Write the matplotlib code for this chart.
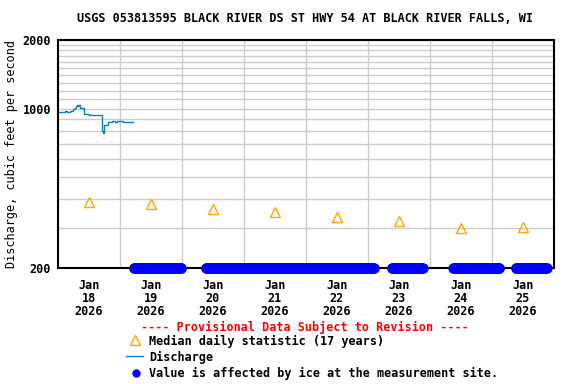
import numpy as np
import matplotlib
matplotlib.use("Agg")
from matplotlib import pyplot as plt
from matplotlib.ticker import FixedLocator, NullFormatter

plt.rcParams['font.family'] = ['DejaVu Sans Mono']
plt.rcParams['font.weight'] = 'bold'

title = "USGS 053813595 BLACK RIVER DS ST HWY 54 AT BLACK RIVER FALLS, WI"

# discharge, hours after Jan 18 00:00
q_hours = [0, 1, 2, 2.7, 3.5, 4.5, 5.9, 6.5, 7.0, 7.4, 7.7, 8.1, 8.5, 9.5, 10.2, 11,
           12.1, 13.5, 14, 14.5, 16, 16.5, 16.9, 17.2, 17.5, 17.9, 18.7, 19.5, 21, 22,
           23, 25, 27, 28.9]
q_cfs = [966, 970, 964, 972, 969, 975, 998, 1005, 1030, 1037, 1030, 1037, 1005, 1005,
         947, 945, 937, 937, 942, 937, 937, 942, 937, 800, 783, 846, 846, 876, 880, 876,
         880, 876, 878, 876]

# median daily statistic, one per day (plotted at noon)
med_days = [0, 1, 2, 3, 4, 5, 6, 7]
med_cfs = [390, 380, 364, 351, 334, 320, 301, 304]

# ice-affected periods (days after Jan 18 00:00)
ice_start = [1.22, 2.38, 5.38, 6.37, 7.38]
ice_end = [2.00, 5.10, 5.89, 7.13, 7.88]

day_labels = ["Jan\n18\n2026", "Jan\n19\n2026", "Jan\n20\n2026", "Jan\n21\n2026",
              "Jan\n22\n2026", "Jan\n23\n2026", "Jan\n24\n2026", "Jan\n25\n2026"]

fs = 8.5

fig = plt.figure(figsize=(5.76, 3.84), dpi=100)
ax = fig.add_axes([58 / 576, 1 - 268 / 384, 496 / 576, 228 / 384])

ax.set_yscale('log')
ax.set_ylim(200, 2000)
ax.set_xlim(0, 8)

ax.yaxis.set_major_locator(FixedLocator([200, 1000, 2000]))
ax.set_yticklabels(["200", "1000", "2000"])
ax.yaxis.set_minor_locator(FixedLocator(list(range(300, 1000, 100)) + list(range(1100, 2000, 100))))
ax.yaxis.set_minor_formatter(NullFormatter())
ax.set_xticks(np.arange(1, 8))
ax.set_xticklabels([])
ax.set_xticks(np.arange(8) + 0.5, minor=True)
ax.set_xticklabels(day_labels, minor=True, linespacing=1.0)
ax.tick_params(which='both', length=0, labelsize=fs)
ax.tick_params(axis='x', which='minor', pad=8)
ax.tick_params(axis='y', pad=5)
ax.grid(True, which='major', color='#cccccc', lw=1)
ax.grid(True, which='minor', axis='y', color='#cccccc', lw=1)
for s in ax.spines.values():
    s.set_linewidth(1.5)

ax.plot(np.array(q_hours) / 24, q_cfs, color='#0a7fd1', lw=1, drawstyle='steps-post')
ax.plot(np.array(med_days) + 0.5, med_cfs, ls='none', marker='^', ms=7,
        mfc='none', mec='#ffa500', mew=1)
for a, b in zip(ice_start, ice_end):
    t = np.arange(a, b + 1e-6, 1 / 96)
    ax.plot(t, np.full(len(t), 200), ls='none', marker='o', ms=6.5,
            color='#0000ff', clip_on=False, zorder=5)

ax.set_ylabel("Discharge, cubic feet per second", fontsize=fs)
ax.yaxis.set_label_coords(-40 / 496, 0.5)
fig.text(305 / 576, 1 - 19 / 384, title, ha='center', va='center', fontsize=fs)

# legend area in pixel coordinates
lax = fig.add_axes([0, 0, 1, 1])
lax.set_xlim(0, 576)
lax.set_ylim(384, 0)
lax.axis('off')
lax.text(305, 327, "---- Provisional Data Subject to Revision ----", color='red',
         ha='center', va='center', fontsize=fs)
lax.plot([135], [340], marker='^', ms=7, mfc='none', mec='#ffa500', mew=1)
lax.text(149, 341, "Median daily statistic (17 years)", va='center', fontsize=fs)
lax.plot([126, 143], [356, 356], color='#0a7fd1', lw=1)
lax.text(149, 357, "Discharge", va='center', fontsize=fs)
lax.plot([136], [373], marker='o', ms=5, color='#0000ff')
lax.text(149, 373, "Value is affected by ice at the measurement site.", va='center', fontsize=fs)

fig.savefig("out.png", dpi=100)
